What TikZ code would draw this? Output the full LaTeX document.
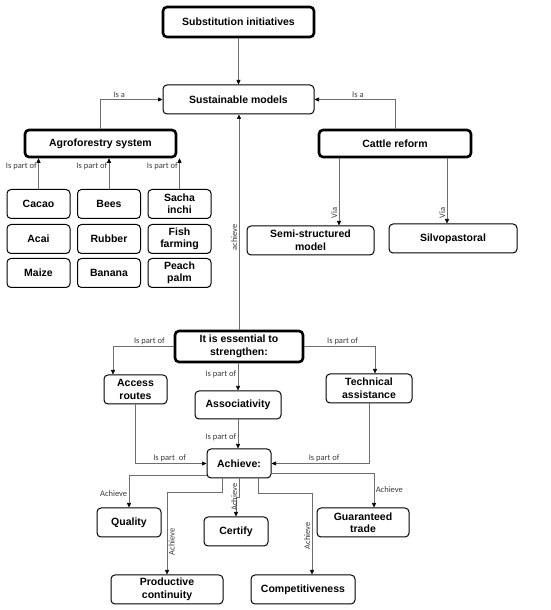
\documentclass[tikz,border=0pt]{standalone}
\usepackage{fontspec}
\setmainfont{Liberation Sans}
\newfontfamily\lblfont{Carlito}
\usetikzlibrary{arrows.meta,positioning}
\definecolor{LineGray}{HTML}{6E6E6E}
\definecolor{LblGray}{HTML}{3A3A3A}
\tikzset{
  box/.style={draw=black,rounded corners=4pt,line width=1pt,align=center,
    font=\fontsize{10.5}{12.5}\selectfont\bfseries,inner sep=1pt},
  keybox/.style={box,line width=2.6pt},
  lbl/.style={font=\lblfont\fontsize{8.5}{9}\selectfont,text=LblGray,inner sep=1.5pt},
  arr/.style={draw=LineGray,line width=0.6pt,-{Triangle[length=4.5pt,width=4pt,color=black]}},
}

\begin{document}
\begin{tikzpicture}[x=1pt,y=1pt]
  \useasboundingbox (0,0) rectangle (550,610);
  % top of the map
  \node[keybox,minimum width=151,minimum height=30] (subst) at (238.5,588) {Substitution initiatives};
  \node[box,minimum width=151,minimum height=29] (sustm) at (238.5,510.5) {Sustainable models};
  \node[keybox,minimum width=151,minimum height=27] (agro) at (100.5,466.5) {Agroforestry system};
  \node[keybox,minimum width=152,minimum height=27] (cattle) at (395,466.5) {Cattle reform};
  \draw[arr] (subst.south) -- (sustm.north);
  \draw[arr] (agro.north) |- (sustm.west) node[lbl,pos=0.65,above] {Is a};
  \draw[arr] (cattle.north) |- (sustm.east) node[lbl,pos=0.73,above] {Is a};
  % agroforestry products
  \foreach \x/\y/\nm/\txt in {38.5/406/cacao/Cacao, 109/406/bees/Bees, 179.5/406/sacha/{Sacha\\inchi},
      38.5/371/acai/Acai, 109/371/rubber/Rubber, 179.5/371/fish/{Fish\\farming},
      38.5/337/maize/Maize, 109/337/banana/Banana, 179.5/337/peach/{Peach\\palm}}
    \node[box,minimum width=63,minimum height=29] (\nm) at (\x,\y) {\txt};
  \foreach \nm in {cacao,bees,sacha}
    \draw[arr] (\nm.north) -- (\nm.north |- agro.south) node[lbl,pos=0.74,left] {Is part of};
  % cattle options
  \node[box,minimum width=127,minimum height=29] (semi) at (310.5,369.5) {Semi-structured\\model};
  \node[box,minimum width=128,minimum height=29] (silvo) at (453,371.5) {Silvopastoral};
  \draw[arr] ([xshift=-56]cattle.south) -- ([xshift=-56]cattle.south |- semi.north)
    node[lbl,pos=0.81,rotate=90,anchor=south] {Via};
  \draw[arr] ([xshift=52]cattle.south) -- ([xshift=52]cattle.south |- silvo.north)
    node[lbl,pos=0.84,rotate=90,anchor=south] {Via};
  % what has to be strengthened
  \node[keybox,minimum width=128,minimum height=31] (ess) at (239,263.5) {It is essential to\\strengthen:};
  \draw[arr] (ess.north) -- (ess.north |- sustm.south) node[lbl,pos=0.43,rotate=90,anchor=south] {achieve};
  \node[box,minimum width=63,minimum height=29] (acc) at (135.5,220.5) {Access\\routes};
  \node[box,minimum width=86,minimum height=28] (assoc) at (238,205) {Associativity};
  \node[box,minimum width=86,minimum height=29] (tech) at (369,221.5) {Technical\\assistance};
  \draw[arr] (ess.west) -| ([xshift=-22.5]acc.north) node[lbl,pos=0.2,above] {Is part of};
  \draw[arr] (ess.east) -| ([xshift=6]tech.north) node[lbl,pos=0.27,above] {Is part of};
  \draw[arr] (assoc.north |- ess.south) -- (assoc.north) node[lbl,pos=0.4,left] {Is part of};
  % results
  \node[box,minimum width=64,minimum height=29] (ach) at (239,146.5) {Achieve:};
  \draw[arr] (assoc.south) -- (assoc.south |- ach.north) node[lbl,pos=0.6,left] {Is part of};
  \draw[arr] (acc.south) |- (ach.west) node[lbl,pos=0.74,above] {Is part\ \ of};
  \draw[arr] (tech.south) |- (ach.east) node[lbl,pos=0.73,above] {Is part of};
  \node[box,minimum width=64,minimum height=29] (qual) at (129,87.5) {Quality};
  \node[box,minimum width=64,minimum height=29] (cert) at (236,78.5) {Certify};
  \node[box,minimum width=92,minimum height=29] (guar) at (363,87.5) {Guaranteed\\trade};
  \node[box,minimum width=112,minimum height=29] (prod) at (167,20.5) {Productive\\continuity};
  \node[box,minimum width=104,minimum height=29] (comp) at (303,20.5) {Competitiveness};
  \coordinate (certjog) at (239,113);
  \draw[arr] ([yshift=3]ach.south west) -| (qual.north) node[lbl,pos=0.79,left] {Achieve};
  \draw[arr] ([yshift=5]ach.south east) -| ([xshift=11]guar.north) node[lbl,pos=0.73,right] {Achieve};
  \draw[arr] (ach.south) -- (certjog) node[lbl,pos=1,rotate=90,anchor=south] {Achieve} -| (cert.north);
  \draw[arr] ([xshift=-17]ach.south) -- ++(0,-14) -| (prod.north)
    node[lbl,pos=0.8,rotate=90,anchor=north] {Achieve};
  \draw[arr] ([xshift=19]ach.south) -- ++(0,-15) -| ([xshift=9]comp.north)
    node[lbl,pos=0.76,rotate=90,anchor=south] {Achieve};
\end{tikzpicture}
\end{document}
